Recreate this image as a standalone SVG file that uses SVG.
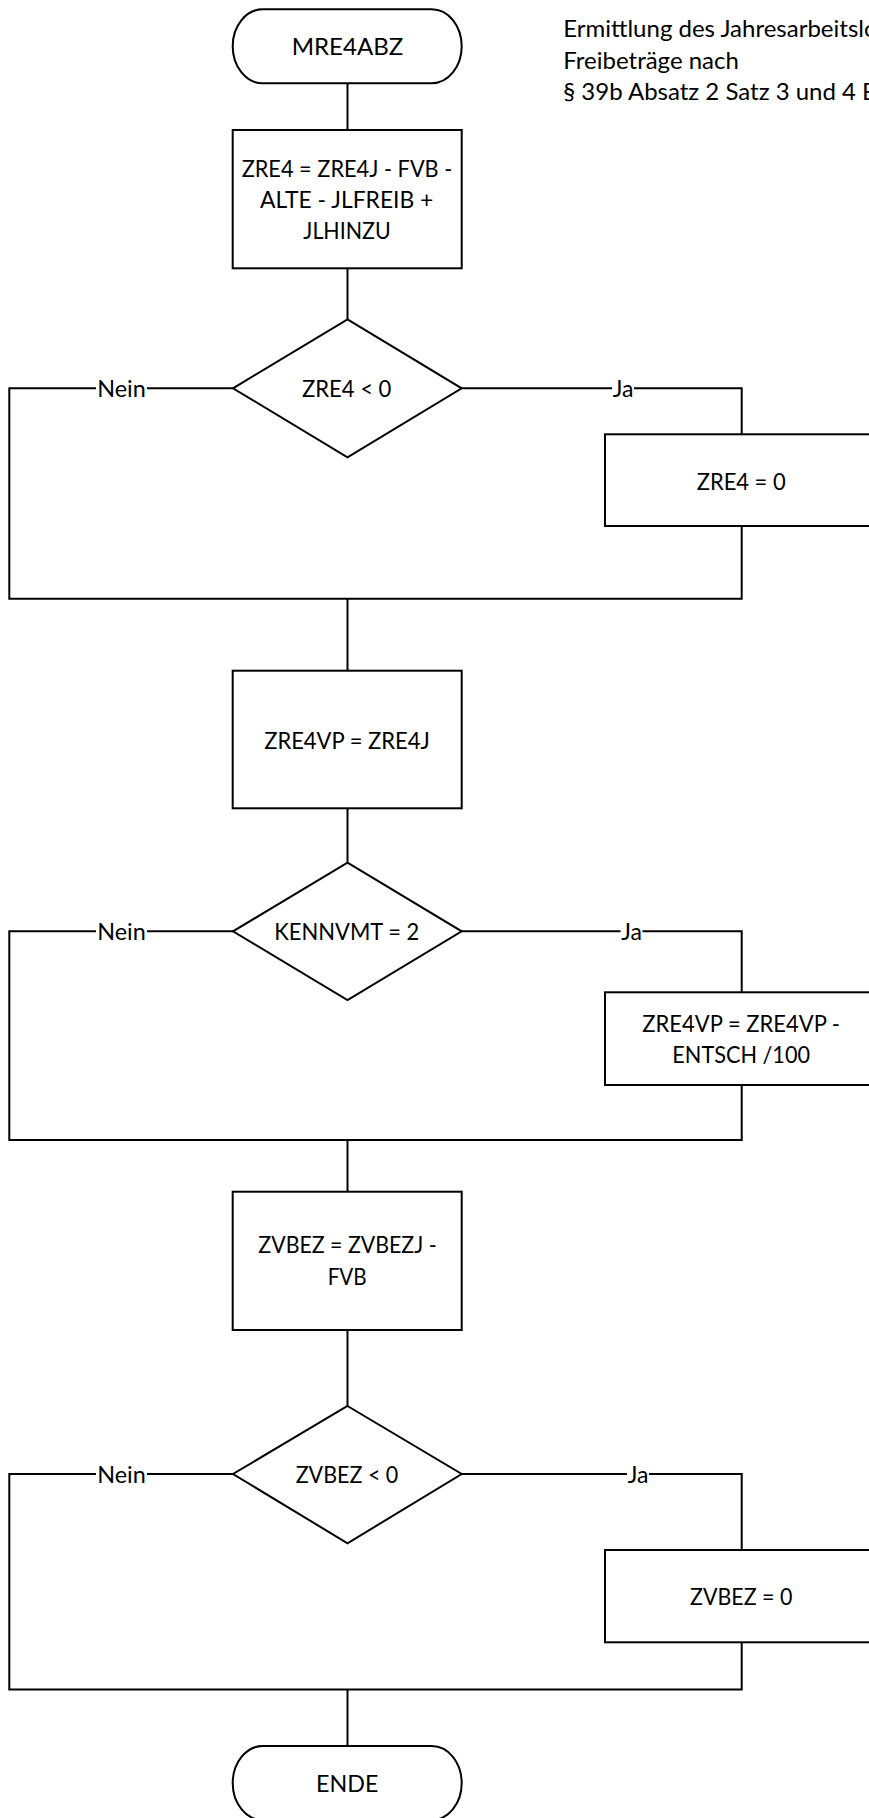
<svg xmlns="http://www.w3.org/2000/svg" width="869" height="1818" viewBox="0 0 869 1818">
<style>
.s{fill:#fff;stroke:#000;stroke-width:2}
.c{fill:none;stroke:#000;stroke-width:2}
.t{font-family:Lato,"Open Sans","Liberation Sans",sans-serif;font-size:24px;fill:#000;text-anchor:middle}
.l{font-family:Lato,"Open Sans","Liberation Sans",sans-serif;font-size:24px;fill:#000}
.bg{fill:#fff}
</style>
<rect width="869" height="1818" fill="#fff"/>
<g id="connectors">
<path class="c" d="M347.5 83.3V130"/>
<path class="c" d="M347.5 268.3V319.3"/>
<path class="c" d="M233 388.3H9.3V598.7H741.7V526"/>
<path class="c" d="M461.7 388.3H741.7V434.3"/>
<path class="c" d="M347.5 598.7V670.7"/>
<path class="c" d="M347.5 808.3V862.7"/>
<path class="c" d="M233 931.3H9.3V1140H741.7V1085"/>
<path class="c" d="M461.7 931.3H741.7V992.3"/>
<path class="c" d="M347.5 1140V1191.7"/>
<path class="c" d="M347.5 1330V1406"/>
<path class="c" d="M233 1474H9.3V1689.5H741.7V1642.3"/>
<path class="c" d="M461.7 1474H741.7V1550"/>
<path class="c" d="M347.5 1689.5V1746"/>
<g id="labels">
<rect class="bg" x="96" y="378" width="51" height="22"/>
<text class="t" x="121.5" y="396.5" textLength="48.5" lengthAdjust="spacingAndGlyphs">Nein</text>
<rect class="bg" x="612" y="378" width="22" height="22"/>
<text class="t" x="623" y="396.5" textLength="20.7" lengthAdjust="spacingAndGlyphs">Ja</text>
<rect class="bg" x="96" y="921" width="51" height="22"/>
<text class="t" x="121.5" y="939.5" textLength="48.5" lengthAdjust="spacingAndGlyphs">Nein</text>
<rect class="bg" x="620.5" y="921" width="22" height="22"/>
<text class="t" x="631.7" y="939.5" textLength="20.7" lengthAdjust="spacingAndGlyphs">Ja</text>
<rect class="bg" x="96" y="1464" width="51" height="22"/>
<text class="t" x="121.5" y="1482.5" textLength="48.5" lengthAdjust="spacingAndGlyphs">Nein</text>
<rect class="bg" x="627" y="1464" width="22" height="22"/>
<text class="t" x="638" y="1482.5" textLength="20.7" lengthAdjust="spacingAndGlyphs">Ja</text>
</g>
</g>
<g id="start">
<rect class="s" x="232.7" y="9.3" width="229" height="74" rx="30" ry="37"/>
<text class="t" x="347.5" y="55" textLength="111.7" lengthAdjust="spacingAndGlyphs">MRE4ABZ</text>
</g>
<g id="note">
<text class="l" x="563.3" y="37">Ermittlung des Jahresarbeitslohns nach Abzug der</text>
<text class="l" x="563.3" y="68.5">Freibeträge nach</text>
<text class="l" x="563.3" y="100">§ 39b Absatz 2 Satz 3 und 4 EStG</text>
</g>
<g id="calc-zre4">
<rect class="s" x="232.7" y="130" width="229" height="138.3"/>
<text class="t" x="347" y="176.5" textLength="210.7" lengthAdjust="spacingAndGlyphs">ZRE4 = ZRE4J - FVB -</text>
<text class="t" x="346.7" y="207.5" textLength="173.3" lengthAdjust="spacingAndGlyphs">ALTE - JLFREIB  +</text>
<text class="t" x="347" y="238.5" textLength="87.3" lengthAdjust="spacingAndGlyphs">JLHINZU</text>
</g>
<g id="dec-zre4">
<polygon class="s" points="347.5,319.3 461.7,388.3 347.5,457.3 233,388.3"/>
<text class="t" x="346.7" y="396.5" textLength="89.4" lengthAdjust="spacingAndGlyphs">ZRE4 &lt; 0</text>
</g>
<g id="set-zre4">
<rect class="s" x="605" y="434.3" width="273" height="91.7"/>
<text class="t" x="741.2" y="489.5" textLength="89" lengthAdjust="spacingAndGlyphs">ZRE4 = 0</text>
</g>
<g id="calc-zre4vp">
<rect class="s" x="232.7" y="670.7" width="229" height="137.6"/>
<text class="t" x="347" y="748.5" textLength="165.7" lengthAdjust="spacingAndGlyphs">ZRE4VP = ZRE4J</text>
</g>
<g id="dec-kennvmt">
<polygon class="s" points="347.5,862.7 461.7,931.3 347.5,1000 233,931.3"/>
<text class="t" x="346.8" y="940" textLength="145" lengthAdjust="spacingAndGlyphs">KENNVMT = 2</text>
</g>
<g id="set-zre4vp">
<rect class="s" x="605" y="992.3" width="273" height="92.7"/>
<text class="t" x="741.2" y="1031.7" textLength="197.7" lengthAdjust="spacingAndGlyphs">ZRE4VP = ZRE4VP -</text>
<text class="t" x="741.2" y="1062.7" textLength="137.7" lengthAdjust="spacingAndGlyphs">ENTSCH /100</text>
</g>
<g id="calc-zvbez">
<rect class="s" x="232.7" y="1191.7" width="229" height="138.3"/>
<text class="t" x="347.5" y="1253.3" textLength="178.3" lengthAdjust="spacingAndGlyphs">ZVBEZ = ZVBEZJ -</text>
<text class="t" x="347.2" y="1285" textLength="39" lengthAdjust="spacingAndGlyphs">FVB</text>
</g>
<g id="dec-zvbez">
<polygon class="s" points="347.5,1406 461.7,1474 347.5,1543.3 233,1474"/>
<text class="t" x="347" y="1483" textLength="102.7" lengthAdjust="spacingAndGlyphs">ZVBEZ &lt; 0</text>
</g>
<g id="set-zvbez">
<rect class="s" x="605" y="1550" width="273" height="92.3"/>
<text class="t" x="741.2" y="1605" textLength="102.3" lengthAdjust="spacingAndGlyphs">ZVBEZ = 0</text>
</g>
<g id="end">
<rect class="s" x="232.7" y="1746" width="229" height="74" rx="30" ry="37"/>
<text class="t" x="347.2" y="1791.7" textLength="62.3" lengthAdjust="spacingAndGlyphs">ENDE</text>
</g>
</svg>
